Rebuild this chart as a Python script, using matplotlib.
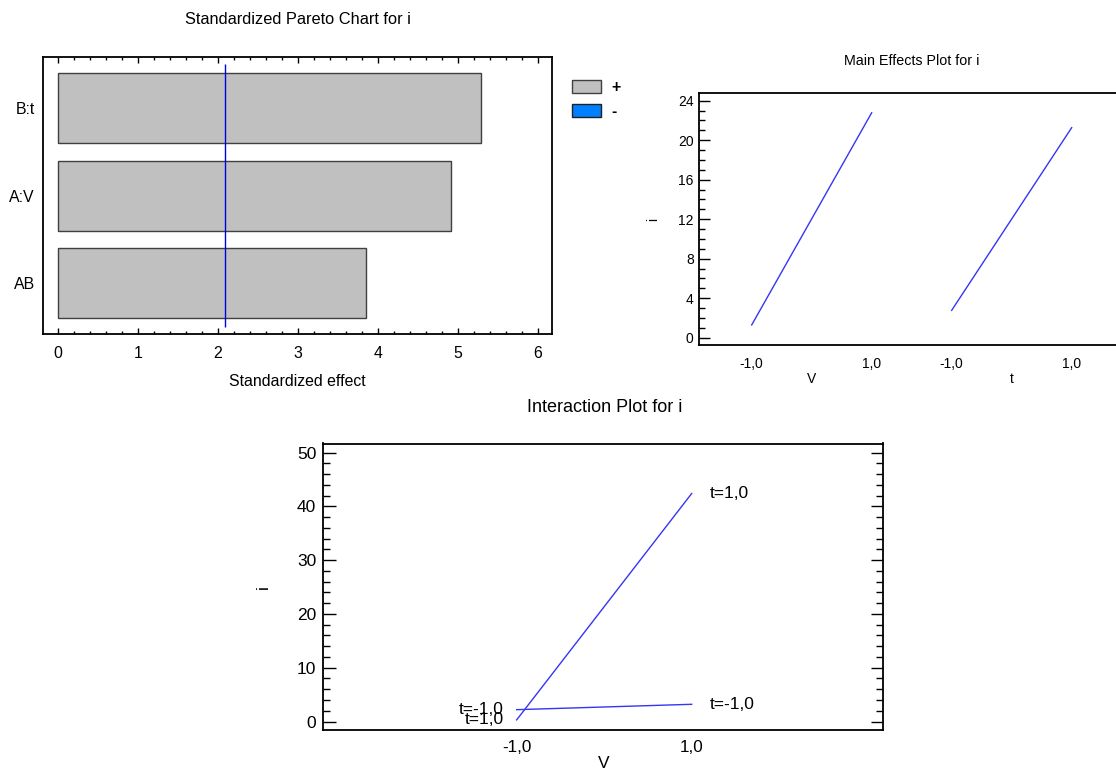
import matplotlib
matplotlib.use("Agg")
import matplotlib.pyplot as plt
import matplotlib.patches as mpatches
from matplotlib import font_manager
from matplotlib.ticker import MultipleLocator

# ---------------- data ----------------
effect_names = ["B:t", "A:V", "AB"]
effect_values = [5.29, 4.91, 3.85]
critical_value = 2.09

level_labels = ["-1,0", "1,0"]
levels = [-1.0, 1.0]
main_factors = ["V", "t"]
main_V = [1.29, 22.78]
main_t = [2.77, 21.27]

inter_t_plus = [0.3, 42.4]    # t=1,0 at V=-1, V=1
inter_t_minus = [2.2, 3.2]    # t=-1,0 at V=-1, V=1
inter_labels = ["t=1,0", "t=-1,0"]

# ---------------- fonts ----------------
names = {f.name for f in font_manager.fontManager.ttflist}
if "Liberation Sans Narrow" in names:
    FAM = ["Liberation Sans Narrow", "Liberation Sans", "DejaVu Sans"]
    K = 1.1 / 0.82
else:
    FAM = ["Liberation Sans", "DejaVu Sans"]
    K = 1.08
plt.rcParams["font.family"] = FAM

def fs(pt):
    return pt * K

W, H = 1116, 771
fig = plt.figure(figsize=(W / 100, H / 100), dpi=100)

def rect(l, t, r, b):
    return [l / W, 1 - b / H, (r - l) / W, (b - t) / H]

LINE = "#3535F5"

# ---------------- Pareto chart ----------------
ax1 = fig.add_axes(rect(43.3, 57, 552, 333.5))
ypos = list(range(len(effect_names) - 1, -1, -1))
ax1.barh(ypos, effect_values, height=0.8, color="#C0C0C0",
         edgecolor="#404040", linewidth=1.0, zorder=2)
ax1.vlines(critical_value, -0.5, len(effect_names) - 0.5, color="#0000E6",
           linewidth=1.0, zorder=3)
ax1.set_xlim(-0.184, 6.175)
ax1.set_ylim(-0.577, 2.583)
ax1.set_yticks(ypos)
ax1.set_yticklabels(effect_names, fontsize=fs(10.6))
ax1.tick_params(axis="y", length=0, pad=6)
ax1.xaxis.set_major_locator(MultipleLocator(1))
ax1.xaxis.set_minor_locator(MultipleLocator(0.2))
ax1.tick_params(axis="x", which="both", direction="in", top=True, bottom=True,
                labelsize=fs(10.6), pad=9)
ax1.tick_params(axis="x", which="major", length=4, width=1)
ax1.tick_params(axis="x", which="minor", length=2, width=1)
ax1.set_xlabel("Standardized effect", fontsize=fs(10.6), labelpad=9)
for s in ax1.spines.values():
    s.set_linewidth(1.3)
fig.text(297.5 / W, 1 - 20 / H, "Standardized Pareto Chart for i",
         ha="center", va="center", fontsize=fs(10.9))

handles = [mpatches.Patch(facecolor="#C0C0C0", edgecolor="#404040", label="+"),
           mpatches.Patch(facecolor="#0080FF", edgecolor="#202020", label="-")]
fig.legend(handles=handles, loc="upper left",
           bbox_to_anchor=(572 / W, 1 - 80 / H), frameon=False,
           borderpad=0, borderaxespad=0, handlelength=1.85, handleheight=0.85,
           handletextpad=0.6, labelspacing=0.55,
           prop={"size": fs(10.6), "weight": "bold"})

# ---------------- Main effects plot ----------------
slot = 200 / 60.0
ax2 = fig.add_axes(rect(699.3, 93, 699.3 + (2 * 1.873 + slot) * 60, 345.5))
all_ticks, all_labels = [], []
for k, (name, vals) in enumerate(zip(main_factors, [main_V, main_t])):
    xs = [lv + k * slot for lv in levels]
    ax2.plot(xs, vals, color=LINE, linewidth=1.0)
    all_ticks += xs
    all_labels += level_labels
    ax2.text(k * slot, -0.133, name, transform=ax2.get_xaxis_transform(),
             ha="center", va="center", fontsize=fs(9.3))
ax2.set_xlim(-1.873, slot + 1.873)
ax2.set_ylim(-0.79, 24.78)
ax2.set_xticks(all_ticks)
ax2.set_xticklabels(all_labels, fontsize=fs(9.3))
ax2.tick_params(axis="x", length=0, pad=8)
ax2.yaxis.set_major_locator(MultipleLocator(4))
ax2.yaxis.set_minor_locator(MultipleLocator(1))
ax2.tick_params(axis="y", which="both", direction="in", left=True,
                labelsize=fs(9.3), pad=4)
ax2.tick_params(axis="y", which="major", length=8, width=1)
ax2.tick_params(axis="y", which="minor", length=4.5, width=1)
ax2.set_ylabel("i", fontsize=fs(9.3), labelpad=13)
for s in ax2.spines.values():
    s.set_linewidth(1.3)
fig.text(911.5 / W, 1 - 61 / H, "Main Effects Plot for i",
         ha="center", va="center", fontsize=fs(9.5))

# ---------------- Interaction plot ----------------
ax3 = fig.add_axes(rect(323.3, 443.5, 883.3, 730))
for vals, lab in zip([inter_t_plus, inter_t_minus], inter_labels):
    ax3.plot(levels, vals, color=LINE, linewidth=1.0)
    ax3.annotate(lab, (levels[-1], vals[-1]), xytext=(13, 0),
                 textcoords="offset points", ha="left", va="center",
                 fontsize=fs(11.6))
    ax3.annotate(lab, (levels[0], vals[0]), xytext=(-9.5, 0),
                 textcoords="offset points", ha="right", va="center",
                 fontsize=fs(11.6))
ax3.set_xlim(-3.21, 3.19)
ax3.set_ylim(-1.58, 51.7)
ax3.set_xticks(levels)
ax3.set_xticklabels(level_labels, fontsize=fs(11.4))
ax3.tick_params(axis="x", length=0, pad=7)
ax3.yaxis.set_major_locator(MultipleLocator(10))
ax3.yaxis.set_minor_locator(MultipleLocator(2))
ax3.tick_params(axis="y", which="both", direction="in", left=True, right=True,
                labelsize=fs(11.6), pad=5)
ax3.tick_params(axis="y", which="major", length=9, width=1)
ax3.tick_params(axis="y", which="minor", length=5, width=1)
ax3.set_ylabel("i", fontsize=fs(11.6), labelpad=19)
ax3.set_xlabel("V", fontsize=fs(11.6), labelpad=1)
for s in ax3.spines.values():
    s.set_linewidth(1.3)
fig.text(605 / W, 1 - 407 / H, "Interaction Plot for i",
         ha="center", va="center", fontsize=fs(12.0))

fig.savefig("out.png", dpi=100)
